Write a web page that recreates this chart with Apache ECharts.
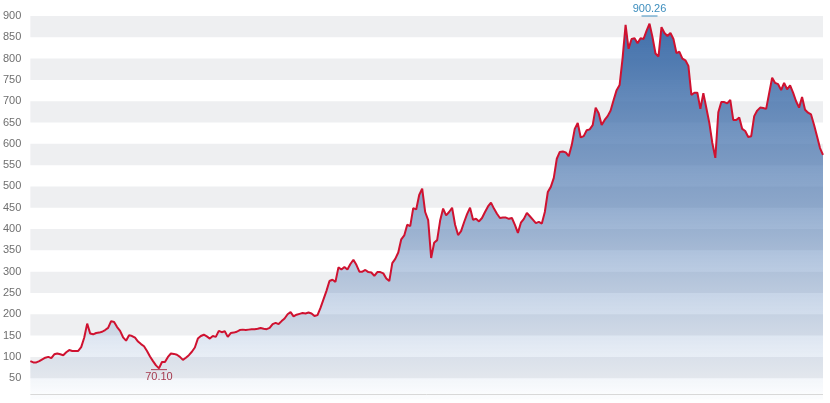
<!DOCTYPE html>
<html>
<head>
<meta charset="utf-8">
<script src="https://cdn.jsdelivr.net/npm/echarts@6/dist/echarts.min.js"></script>
<style>
html,body{margin:0;padding:0;background:#fff;}
#chart{width:830px;height:403px;}
</style>
</head>
<body>
<div id="chart"></div>
<script>
// Closing prices (equally spaced trading days)
var prices = [
90,87,87,90,94,98,100,97,106,108,106,104,111,116,114,114,114,123,145,178,
155,153,156,157,159,163,168,184,182,170,161,146,138,151,149,145,136,130,125,114,
101,90,80,73,88,88,100,108,107,105,100,93,98,104,112,122,143,149,152,148,
143,149,147,161,158,160,147,156,157,159,163,164,163,164,165,165,166,168,166,165,
168,177,180,177,184,190,200,205,195,199,201,203,202,204,202,196,198,215,235,255,
278,281,276,310,305,311,305,318,328,316,300,300,304,299,298,290,299,299,296,284,
278,320,330,345,376,385,410,407,449,446,480,495,440,421,332,368,374,420,448,432,
440,450,410,386,395,416,435,450,422,424,418,426,440,453,462,448,436,426,427,427,
424,426,410,391,415,424,438,430,422,414,417,413,440,487,499,520,565,581,582,580,
571,597,635,649,615,618,632,634,644,685,672,644,656,665,678,703,726,738,801,879,
823,846,848,836,848,846,865,882,850,812,805,874,860,853,860,846,813,816,800,796,
783,715,720,720,682,719,684,649,602,567,674,698,698,695,703,656,656,662,635,630,
616,618,665,678,685,684,682,719,755,743,740,726,743,728,737,720,700,685,710,680,
673,669,645,618,590,574
];
// Period extremes shown as flags
var highIndex = 207, highValue = 900.26, highLabel = '900.26';
var lowIndex = 43, lowValue = 70.10, lowLabel = '70.10';
// Axis
var yMin = 0, yMax = 900, yStep = 50;
var baseLineValue = 12;
var days = prices.map(function(_, i){ return String(i + 1); });

var chart = echarts.init(document.getElementById('chart'), null, {renderer:'canvas'});
chart.setOption({
  animation: false,
  grid: {left: 29, right: 7, top: 16, bottom: 3.5},
  xAxis: {
    type: 'category', data: days, boundaryGap: false,
    axisLine: {show: false}, axisTick: {show: false}, axisLabel: {show: false},
    splitLine: {show: false}
  },
  yAxis: {
    type: 'value', min: yMin, max: yMax, interval: yStep,
    axisLine: {show: false}, axisTick: {show: false},
    axisLabel: {
      margin: 9, color: '#6f6f6f', fontSize: 11, fontFamily: 'Liberation Sans, Arial, sans-serif',
      formatter: function(v){ return v === 0 ? '' : String(v); }
    },
    splitLine: {show: false},
    splitArea: {show: true, areaStyle: {color: ['rgba(255,255,255,0)', '#eeeff1']}}
  },
  series: [{
    type: 'line', data: prices, symbol: 'none', smooth: false, clip: false,
    lineStyle: {color: '#cf1230', width: 2},
    itemStyle: {color: '#cf1230'},
    areaStyle: {
      opacity: 1,
      color: new echarts.graphic.LinearGradient(0, 16, 0, 394, [
        {offset: 0, color: 'rgba(60,108,168,1)'},
        {offset: 0.5, color: 'rgba(75,118,175,0.6)'},
        {offset: 1, color: 'rgba(100,140,195,0.03)'}
      ], true),
      origin: 'start'
    },
    markLine: {
      silent: true, symbol: ['none','none'],
      lineStyle: {color: '#d8d8d8', width: 1, type: 'solid'},
      label: {show: false},
      data: [{yAxis: baseLineValue}]
    },
    markPoint: {
      silent: true,
      data: [
        {coord: [highIndex, Math.min(highValue, yMax)], value: highLabel, symbol: 'rect', symbolSize: [16, 1],
         itemStyle: {color: '#3c8dbd'},
         label: {show: true, position: 'top', distance: 1, color: '#3c8dbd', fontSize: 11,
                 fontFamily: 'Liberation Sans, Arial, sans-serif', formatter: highLabel}},
        {coord: [lowIndex, lowValue], value: lowLabel, symbol: 'rect', symbolSize: [16, 1],
         itemStyle: {color: '#b03a52'},
         label: {show: true, position: 'bottom', distance: 1, color: '#a53a4e', fontSize: 11,
                 fontFamily: 'Liberation Sans, Arial, sans-serif', formatter: lowLabel}}
      ]
    }
  }]
});
</script>
</body>
</html>
